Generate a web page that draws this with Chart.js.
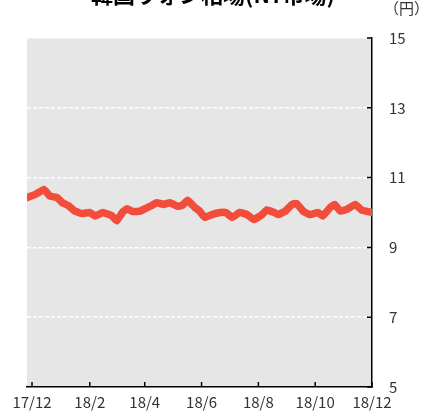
<!DOCTYPE html>
<html>
<head>
<meta charset="utf-8">
<script src="https://cdn.jsdelivr.net/npm/chart.js@4/dist/chart.umd.min.js"></script>
<style>
  html, body { margin: 0; padding: 0; background: #fff; }
  #wrap { width: 422px; height: 413px; }
</style>
</head>
<body>
<div id="wrap"><canvas id="won-chart" width="422" height="413"></canvas></div>
<script>
// 韓国ウォン相場 (100ウォンあたり円), day 0 = 2017/12/1
const days = [-5, 3, 13, 19, 27, 32, 39, 46, 54, 62, 68, 76, 86, 91, 97, 102, 108, 116,
    127, 134, 141, 148, 156, 161, 167, 175, 180, 184, 186, 193, 202, 208, 215, 223, 231,
    238, 247, 252, 260, 264, 272, 279, 284, 291, 298, 307, 312, 320, 325, 331, 338, 347,
    354, 365];
const won = [10.43, 10.51, 10.66, 10.47, 10.43, 10.29, 10.2, 10.04, 9.97, 10.0, 9.9, 10.0,
    9.9, 9.76, 10.0, 10.11, 10.03, 10.04, 10.18, 10.28, 10.23, 10.28, 10.18, 10.2, 10.35,
    10.14, 10.04, 9.9, 9.86, 9.94, 10.0, 10.0, 9.86, 10.0, 9.94, 9.8, 9.94, 10.07, 10.0,
    9.94, 10.04, 10.23, 10.26, 10.04, 9.94, 10.0, 9.9, 10.14, 10.23, 10.04, 10.09, 10.23,
    10.07, 10.0];
const monthTicks = [0, 62, 121, 182, 243, 304, 365];
const monthLabels = ['17/12', '18/2', '18/4', '18/6', '18/8', '18/10', '18/12'];
const yTicks = [5, 7, 9, 11, 13, 15];

const points = days.map((d, i) => ({ x: d, y: won[i] }));

const decor = {
    id: 'decor',
    beforeDraw(chart) {
        const { ctx, chartArea: a } = chart;
        ctx.save();
        ctx.fillStyle = '#e6e6e6';
        ctx.fillRect(a.left, a.top, a.right - a.left, a.bottom - a.top);
        ctx.restore();
    },
    afterDraw(chart) {
        const { ctx, chartArea: a, scales } = chart;
        ctx.save();
        ctx.strokeStyle = '#000';
        ctx.lineWidth = 1.5;
        ctx.beginPath();
        monthTicks.forEach(t => {
            const x = scales.x.getPixelForValue(t);
            ctx.moveTo(x, a.bottom);
            ctx.lineTo(x, a.bottom - 5);
        });
        yTicks.forEach(t => {
            const y = scales.y.getPixelForValue(t);
            ctx.moveTo(a.right, y);
            ctx.lineTo(a.right - 5, y);
        });
        ctx.stroke();
        ctx.fillStyle = '#000';
        ctx.font = 'bold 22px "Noto Sans CJK JP"';
        ctx.textAlign = 'center';
        ctx.textBaseline = 'alphabetic';
        ctx.fillText('韓国ウォン相場(NY市場)', 213, 3);
        ctx.fillStyle = '#333';
        ctx.font = '15px "Noto Sans CJK JP"';
        ctx.textAlign = 'left';
        ctx.textBaseline = 'middle';
        ctx.fillText('（円）', 384, 8);
        ctx.restore();
    }
};

new Chart(document.getElementById('won-chart'), {
    type: 'line',
    data: {
        datasets: [{
            data: points,
            borderColor: '#f24d3a',
            borderWidth: 7.5,
            borderJoinStyle: 'round',
            borderCapStyle: 'round',
            pointRadius: 0,
            tension: 0.1
        }]
    },
    options: {
        responsive: false,
        animation: false,
        layout: { padding: { left: 27, top: 38, right: 0, bottom: 0 } },
        plugins: { legend: { display: false }, tooltip: { enabled: false } },
        scales: {
            x: {
                type: 'linear',
                min: -5.4,
                max: 365,
                afterBuildTicks: s => { s.ticks = monthTicks.map(v => ({ value: v })); },
                afterFit: s => { s.height = 25; },
                grid: { display: false, drawTicks: false },
                border: { display: true, color: '#000', width: 1.5 },
                ticks: {
                    autoSkip: false,
                    maxRotation: 0,
                    padding: 6,
                    color: '#333',
                    font: { family: '"Noto Sans CJK JP"', size: 15 },
                    callback: v => monthLabels[monthTicks.indexOf(v)]
                }
            },
            y: {
                position: 'right',
                min: 5,
                max: 15,
                afterBuildTicks: s => { s.ticks = yTicks.map(v => ({ value: v })); },
                afterFit: s => { s.width = 50; },
                grid: { color: '#fff', lineWidth: 1.5, drawTicks: false },
                border: { display: true, color: '#000', width: 1.5, dash: [4, 2] },
                ticks: {
                    padding: 17,
                    color: '#333',
                    font: { family: '"Noto Sans CJK JP"', size: 15 }
                }
            }
        }
    },
    plugins: [decor]
});
</script>
</body>
</html>
